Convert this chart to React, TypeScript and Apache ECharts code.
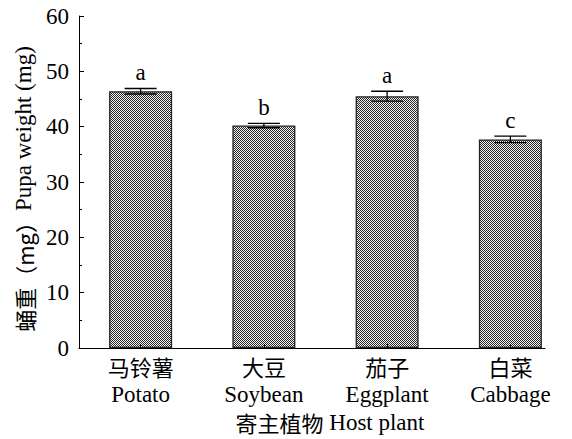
import React, { useEffect, useRef } from "react";
import * as echarts from "echarts";

const categoriesZh = ["马铃薯", "大豆", "茄子", "白菜"];
const categoriesEn = ["Potato", "Soybean", "Eggplant", "Cabbage"];
const means = [46.4, 40.2, 45.5, 37.7];
const errors = [0.5, 0.4, 0.9, 0.6];
const letters = ["a", "b", "a", "c"];
const yMin = 0;
const yMax = 60;
const yInterval = 10;
const yNameZh = "蛹重（mg）";
const yNameEn = "Pupa weight (mg)";
const xNameZh = "寄主植物";
const xNameEn = "Host plant";

const SERIF = "Liberation Serif";
const CJK = "Noto Sans CJK SC";
const FONT = SERIF + ", " + CJK;

function makePattern(): string {
  const c = document.createElement("canvas");
  c.width = 4;
  c.height = 4;
  const ctx = c.getContext("2d")!;
  ctx.fillStyle = "#f4f4f4";
  ctx.fillRect(0, 0, 4, 4);
  ctx.fillStyle = "#262626";
  for (let i = 0; i < 4; i++) {
    for (let j = 0; j < 4; j++) {
      if ((i + j) % 2 === 0) ctx.fillRect(i, j, 1, 1);
    }
  }
  return c.toDataURL();
}

export default function App() {
  const ref = useRef<HTMLDivElement>(null);
  useEffect(() => {
    if (!ref.current) return;
    const chart = echarts.init(ref.current, undefined, { renderer: "svg" });
    const pattern = makePattern();
    const errData = means.map((m, i) => [i, m, errors[i]]);
    chart.setOption({
      animation: false,
      backgroundColor: "#ffffff",
      grid: [
        { left: 79, top: 16, bottom: 91, width: 497 },
        { left: 79, top: 16, bottom: 91, right: 27 },
      ],
      xAxis: [
        {
          type: "category",
          gridIndex: 0,
          data: categoriesZh.map((zh, i) => zh + "\n" + categoriesEn[i]),
          z: 5,
          axisLine: { show: false },
          axisTick: { show: true, inside: true, alignWithLabel: true, interval: 0, length: 4, lineStyle: { color: "#000", width: 1 } },
          axisLabel: {
            interval: 0,
            color: "#000",
            fontFamily: FONT,
            fontSize: 23,
            margin: 1,
            formatter: (v: string) => {
              const parts = v.split("\n");
              return "{zh|" + parts[0] + "}\n{en|" + parts[1] + "}";
            },
            rich: {
              zh: { fontFamily: CJK, fontSize: 22, lineHeight: 33, color: "#000" },
              en: { fontFamily: SERIF, fontSize: 23, lineHeight: 25, color: "#000" },
            },
          },
          name: "{zh|" + xNameZh + "} {en|" + xNameEn + "}",
          nameLocation: "middle",
          nameGap: 62,
          nameTextStyle: {
            color: "#000",
            fontFamily: FONT,
            fontSize: 23,
            padding: [0, 0, 0, 9],
            rich: {
              zh: { fontFamily: CJK, fontSize: 22, color: "#000" },
              en: { fontFamily: SERIF, fontSize: 23, color: "#000" },
            },
          },
        },
        {
          type: "value",
          gridIndex: 1,
          min: 0,
          max: 1,
          z: 5,
          axisLine: { show: true, lineStyle: { color: "#000", width: 1 } },
          axisTick: { show: false },
          axisLabel: { show: false },
          splitLine: { show: false },
        },
      ],
      yAxis: [
        {
          type: "value",
          gridIndex: 0,
          min: yMin,
          max: yMax,
          interval: yInterval,
          z: 5,
          axisLine: { show: true, lineStyle: { color: "#000", width: 1 } },
          axisTick: { show: true, inside: true, length: 5, lineStyle: { color: "#000" } },
          minorTick: { show: true, splitNumber: 2, length: 3, lineStyle: { color: "#000" } },
          splitLine: { show: false },
          axisLabel: { color: "#000", fontFamily: SERIF, fontSize: 23, margin: 10 },
          name: "{zh|" + yNameZh + "}{en|" + yNameEn + "}",
          nameLocation: "middle",
          nameGap: 44,
          nameTextStyle: {
            color: "#000",
            fontFamily: FONT,
            fontSize: 23,
            padding: [0, 14, 0, 0],
            rich: {
              zh: { fontFamily: CJK, fontSize: 22, color: "#000" },
              en: { fontFamily: SERIF, fontSize: 23, color: "#000" },
            },
          },
        },
        {
          type: "value",
          gridIndex: 1,
          show: false,
          min: yMin,
          max: yMax,
        },
      ],
      series: [
        {
          type: "bar",
          xAxisIndex: 0,
          yAxisIndex: 0,
          data: means,
          barWidth: 63,
          itemStyle: {
            color: { image: pattern, repeat: "repeat" },
            borderColor: "#222",
            borderWidth: 1.3,
          },
        },
        {
          type: "custom",
          xAxisIndex: 0,
          yAxisIndex: 0,
          data: errData,
          z: 10,
          renderItem: (params: any, api: any) => {
            const x = api.value(0);
            const m = api.value(1);
            const e = api.value(2);
            const lab = letters[params.dataIndex];
            const top = api.coord([x, m + e]);
            const bot = api.coord([x, m - e]);
            const half = 16;
            const st = { stroke: "#000", lineWidth: 1.3 };
            return {
              type: "group",
              children: [
                { type: "line", shape: { x1: top[0], y1: top[1], x2: bot[0], y2: bot[1] }, style: st },
                { type: "line", shape: { x1: top[0] - half, y1: top[1], x2: top[0] + half, y2: top[1] }, style: st },
                { type: "line", shape: { x1: bot[0] - half, y1: bot[1], x2: bot[0] + half, y2: bot[1] }, style: st },
                {
                  type: "text",
                  x: top[0],
                  y: top[1] - 4,
                  style: {
                    text: lab,
                    fill: "#000",
                    fontFamily: SERIF,
                    fontSize: 23,
                    align: "center",
                    verticalAlign: "bottom",
                  },
                },
              ],
            };
          },
        },
      ],
    });
    return () => chart.dispose();
  }, []);
  return (
    <div
      ref={ref}
      style={{ position: "fixed", left: 0, top: 0, width: 572, height: 439 }}
    />
  );
}
